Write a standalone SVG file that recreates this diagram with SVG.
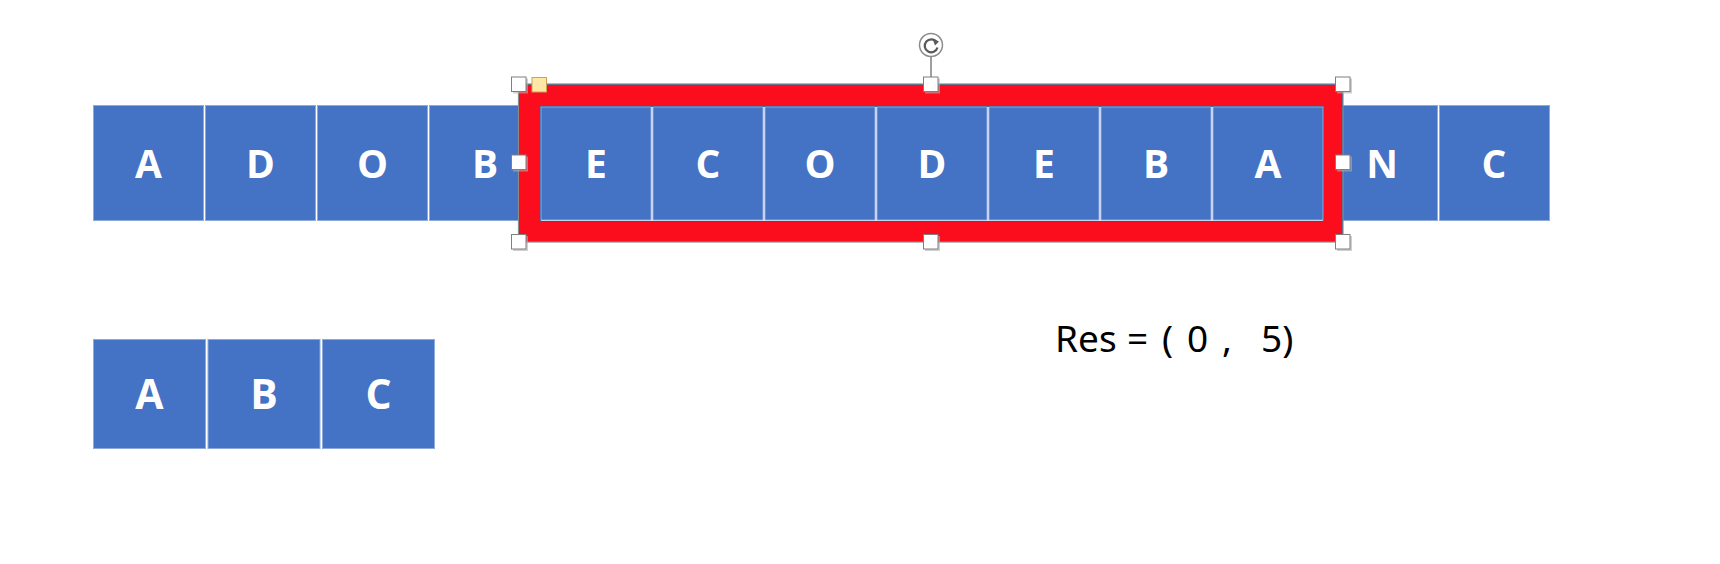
<svg xmlns="http://www.w3.org/2000/svg" width="1720" height="564" viewBox="0 0 1720 564">
<style>
.cell{fill:#4472C4;stroke:#8EA9DB;stroke-width:1}
.lbl{fill:#FFFFFF;font-family:"Open Sans","Noto Sans",sans-serif;font-weight:700;font-size:39px;text-anchor:middle}
.lbl2{fill:#FFFFFF;font-family:"Open Sans","Noto Sans",sans-serif;font-weight:700;font-size:41px;text-anchor:middle}
.hdl{fill:#FFFFFF;stroke:#7F7F7F;stroke-width:1}
.shd{fill:#B0B0B0;opacity:0.6}
.res{fill:#000000;font-family:"Noto Sans","Liberation Sans",sans-serif;font-size:37px}
</style>
<defs>
  <g id="h">
    <rect class="shd" x="-6" y="-6" width="15" height="15"/>
    <rect class="hdl" x="-7.5" y="-7.5" width="14.5" height="14.5"/>
  </g>
</defs>
<rect width="1720" height="564" fill="#FFFFFF"/>
<g id="connectors"/>
<g id="row1">
  <g id="c1"><rect class="cell" x="93.5" y="105.5" width="110" height="115"/><text class="lbl" x="148.5" y="178">A</text></g>
  <g id="c2"><rect class="cell" x="205.5" y="105.5" width="110" height="115"/><text class="lbl" x="260.5" y="178">D</text></g>
  <g id="c3"><rect class="cell" x="317.5" y="105.5" width="110" height="115"/><text class="lbl" x="372.5" y="178">O</text></g>
  <g id="c4"><rect class="cell" x="429.5" y="105.5" width="110" height="115"/><text class="lbl" x="485" y="178">B</text></g>
  <g id="c12"><rect class="cell" x="1327.5" y="105.5" width="110" height="115"/><text class="lbl" x="1382" y="178">N</text></g>
  <g id="c13"><rect class="cell" x="1439.5" y="105.5" width="110" height="115"/><text class="lbl" x="1494" y="178">C</text></g>
</g>
<g id="frame">
  <path d="M519.5 84.5H1342.5V241.5H519.5Z M540.5 106.5V221.5H1323.5V106.5Z" fill="#FC0D1E" fill-rule="evenodd" stroke="#2F528F" stroke-width="1"/>
  <rect x="518.5" y="84" width="824.5" height="158" fill="none" stroke="#8C8C8C" stroke-width="1.2"/>
</g>
<g id="inner">
  <rect x="541" y="107" width="782" height="114" fill="#FFFFFF"/>
  <g id="i1"><rect class="cell" x="541" y="107" width="110" height="113"/><text class="lbl" x="596" y="178">E</text></g>
  <g id="i2"><rect class="cell" x="653" y="107" width="110" height="113"/><text class="lbl" x="708" y="178">C</text></g>
  <g id="i3"><rect class="cell" x="765" y="107" width="110" height="113"/><text class="lbl" x="820" y="178">O</text></g>
  <g id="i4"><rect class="cell" x="877" y="107" width="110" height="113"/><text class="lbl" x="932" y="178">D</text></g>
  <g id="i5"><rect class="cell" x="989" y="107" width="110" height="113"/><text class="lbl" x="1044" y="178">E</text></g>
  <g id="i6"><rect class="cell" x="1101" y="107" width="110" height="113"/><text class="lbl" x="1156" y="178">B</text></g>
  <g id="i7"><rect class="cell" x="1213" y="107" width="110" height="113"/><text class="lbl" x="1268" y="178">A</text></g>
</g>
<g id="handles">
  <line x1="931" y1="57" x2="931" y2="78" stroke="#7F7F7F" stroke-width="1.5"/>
  <circle cx="931" cy="45" r="11.5" fill="#FFFFFF" stroke="#8C8C8C" stroke-width="1.5"/>
  <path d="M936.5 42 A6.5 6.5 0 1 0 937.5 47.5" fill="none" stroke="#595959" stroke-width="2.2"/>
  <path d="M932.5 38.5 L939 41.5 L935 45.5 Z" fill="#595959"/>
  <use href="#h" x="519" y="84.5"/>
  <use href="#h" x="931" y="84.5"/>
  <use href="#h" x="1343" y="84.5"/>
  <use href="#h" x="519" y="162.5"/>
  <use href="#h" x="1343" y="162.5"/>
  <use href="#h" x="519" y="242"/>
  <use href="#h" x="931" y="242"/>
  <use href="#h" x="1343" y="242"/>
  <rect x="532" y="77.5" width="14.5" height="14.5" fill="#FFE8A6" stroke="#C9A458" stroke-width="1"/>
</g>
<g id="row2">
  <g id="p1"><rect class="cell" x="93.5" y="339.5" width="112" height="109"/><text class="lbl2" x="149.5" y="409">A</text></g>
  <g id="p2"><rect class="cell" x="208" y="339.5" width="112" height="109"/><text class="lbl2" x="264" y="409">B</text></g>
  <g id="p3"><rect class="cell" x="322.5" y="339.5" width="112" height="109"/><text class="lbl2" x="378.5" y="409">C</text></g>
</g>
<g id="result">
  <text class="res" y="351.5"><tspan x="1055">Res</tspan><tspan x="1127">=</tspan><tspan x="1162">(</tspan><tspan x="1187">0</tspan><tspan x="1222">,</tspan><tspan x="1261">5)</tspan></text>
</g>
</svg>
